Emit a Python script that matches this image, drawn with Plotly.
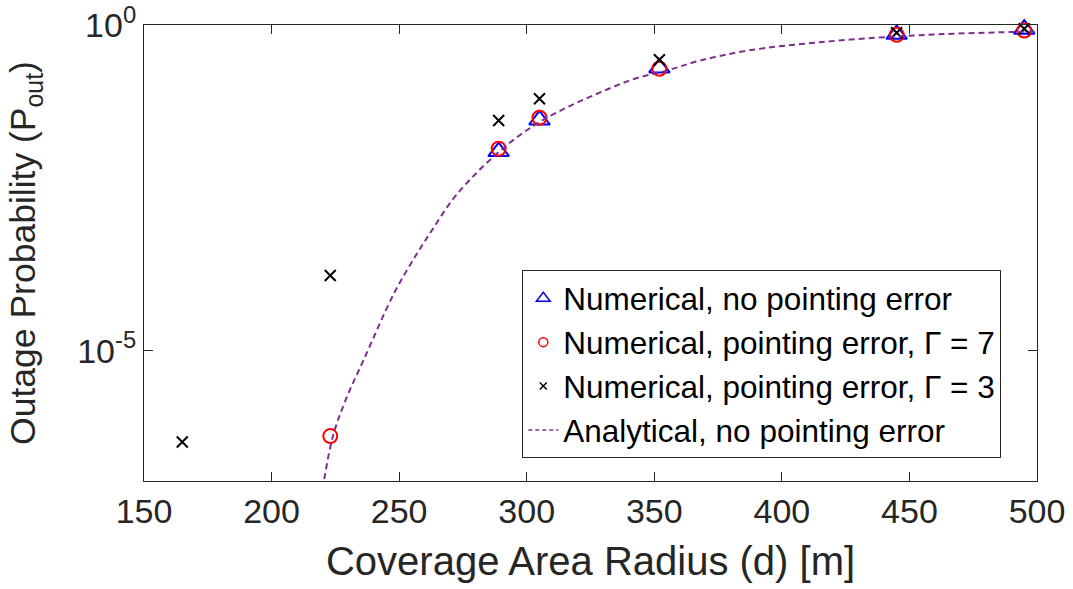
import plotly.graph_objects as go

# Numerical, no pointing error (triangles)
x_tri = [289, 305, 352, 445, 495]
y_tri = [0.0114, 0.0348, 0.219, 0.72, 0.863]

# Numerical, pointing error, Gamma = 7 (circles)
x_circ = [223, 289, 305, 352, 445, 495]
y_circ = [4.9e-7, 0.0126, 0.0377, 0.213, 0.707, 0.82]

# Numerical, pointing error, Gamma = 3 (crosses)
x_cross = [165, 223, 289, 305, 352, 445, 495]
y_cross = [3.97e-7, 1.43e-4, 0.0343, 0.0738, 0.292, 0.76, 0.875]

# Analytical, no pointing error (dashed curve)
x_ana = [220, 224, 229, 236, 248, 257, 263, 271, 280, 289, 297, 305, 316,
         329, 342, 355, 368, 387, 415, 445, 467, 500]
y_ana = [7.5e-8, 4.8e-7, 1.74e-6, 7.1e-6, 7.6e-5, 3.1e-4, 7.2e-4, 2.1e-3,
         5.2e-3, 0.0112, 0.020, 0.0324, 0.055, 0.093, 0.148, 0.20, 0.285,
         0.407, 0.545, 0.667, 0.733, 0.80]

x_ticks = [150, 200, 250, 300, 350, 400, 450, 500]
y_tickvals = [1e-5, 1]
y_ticktext = ["10<sup>-5</sup>", "10<sup>0</sup>"]

names = ["Numerical, no pointing error",
         "Numerical, pointing error, \u0393 = 7",
         "Numerical, pointing error, \u0393 = 3",
         "Analytical, no pointing error"]

FONT = "Liberation Sans, Arial, sans-serif"
AX = "#262626"
BLUE = "#0000FF"
RED = "#FF0000"
PURPLE = "#7E2F8E"

fig = go.Figure()

fig.add_trace(go.Scatter(x=x_tri, y=y_tri, mode="markers", showlegend=False,
                         cliponaxis=False,
                         marker=dict(symbol="triangle-up-open", size=18,
                                     color=BLUE, line=dict(color=BLUE, width=2))))
fig.add_trace(go.Scatter(x=x_circ, y=y_circ, mode="markers", showlegend=False,
                         cliponaxis=False,
                         marker=dict(symbol="circle-open", size=14,
                                     color=RED, line=dict(color=RED, width=2))))
fig.add_trace(go.Scatter(x=x_cross, y=y_cross, mode="markers", showlegend=False,
                         cliponaxis=False,
                         marker=dict(symbol="x-thin-open", size=11,
                                     color="black", line=dict(color="black", width=2))))
fig.add_trace(go.Scatter(x=x_ana, y=y_ana, mode="lines", showlegend=False,
                         line=dict(color=PURPLE, width=2, dash="6px,4px",
                                   shape="spline", smoothing=1.0)))

# legend entries (smaller symbols as in the reference legend)
fig.add_trace(go.Scatter(x=[None], y=[None], mode="markers", name=names[0],
                         marker=dict(symbol="triangle-up-open", size=12,
                                     color=BLUE, line=dict(color=BLUE, width=1.5))))
fig.add_trace(go.Scatter(x=[None], y=[None], mode="markers", name=names[1],
                         marker=dict(symbol="circle-open", size=9,
                                     color=RED, line=dict(color=RED, width=1.5))))
fig.add_trace(go.Scatter(x=[None], y=[None], mode="markers", name=names[2],
                         marker=dict(symbol="x-thin-open", size=7,
                                     color="black", line=dict(color="black", width=1.5))))
fig.add_trace(go.Scatter(x=[None], y=[None], mode="lines", name=names[3],
                         line=dict(color=PURPLE, width=1.5, dash="4px,3px")))

fig.update_layout(
    width=1073, height=589,
    margin=dict(l=144, r=36, t=25, b=108, autoexpand=False),
    paper_bgcolor="white", plot_bgcolor="white",
    font=dict(family=FONT, color=AX, size=34),
    legend=dict(x=0.96, y=0.05, xanchor="right", yanchor="bottom",
                bgcolor="white", bordercolor=AX, borderwidth=1,
                font=dict(family=FONT, size=31.5, color="black"),
                itemwidth=30, tracegroupgap=0),
)

fig.update_xaxes(
    range=[150, 500], tickvals=x_ticks, ticktext=[str(v) for v in x_ticks],
    showgrid=False, zeroline=False, automargin=False,
    showline=True, linecolor=AX, linewidth=1, mirror="allticks",
    ticks="inside", ticklen=9, tickcolor=AX, tickwidth=1,
    tickfont=dict(family=FONT, size=34, color=AX),
    title=dict(text="Coverage Area Radius (d) [m]", standoff=18,
               font=dict(family=FONT, size=40, color=AX)),
)
fig.update_yaxes(
    type="log", range=[-7, 0], tickvals=y_tickvals, ticktext=y_ticktext,
    showgrid=False, zeroline=False, automargin=False,
    showline=True, linecolor=AX, linewidth=1, mirror="allticks",
    ticks="inside", ticklen=9, tickcolor=AX, tickwidth=1,
    tickfont=dict(family=FONT, size=34, color=AX),
    title=dict(text="Outage Probability (P<sub>out</sub>)", standoff=30,
               font=dict(family=FONT, size=35.5, color=AX)),
)

fig.write_html("out.html")
